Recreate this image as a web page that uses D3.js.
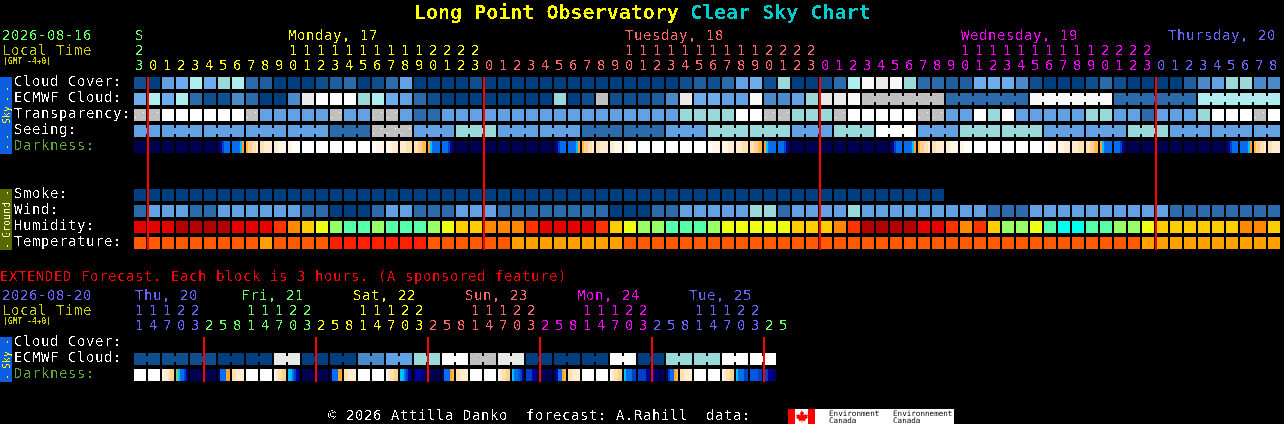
<!DOCTYPE html>
<html><head><meta charset="utf-8">
<script src="https://cdnjs.cloudflare.com/ajax/libs/d3/7.8.5/d3.min.js"></script>
<style>html,body{margin:0;padding:0;background:#000;overflow:hidden}svg{display:block}
text{font-family:"DejaVu Sans Mono",monospace;font-size:14px;letter-spacing:0.57px;white-space:pre}</style></head><body>
<svg id="c" width="1284" height="424" xmlns="http://www.w3.org/2000/svg"></svg>
<script>
// ---------- tick labels ----------
const dayHours=[0,1,2,3,4,5,6,7,8,9,10,11,12,13,14,15,16,17,18,19,20,21,22,23];
const mainHours=[23,...dayHours,...dayHours,...dayHours,0,1,2,3,4,5,6,7,8];
const mainDays=[0,...Array(24).fill(1),...Array(24).fill(2),...Array(24).fill(3),...Array(9).fill(4)];
const dayColors=["#66ff66","#ffff00","#ff6666","#ff00ff","#6666ff"];
const mainHeaders=[{t:"S",col:0,d:0,dx:1},{t:"Monday, 17",col:11,d:1,dx:0},{t:"Tuesday, 18",col:35,d:2,dx:1},{t:"Wednesday, 19",col:59,d:3,dx:1},{t:"Thursday, 20",col:74,d:4,dx:-2}];
const mainTop=[{t:"2",col:0,d:0}];
const extHours=[11,14,17,20,23, 2,5,8,11,14,17,20,23, 2,5,8,11,14,17,20,23, 2,5,8,11,14,17,20,23, 2,5,8,11,14,17,20,23, 2,5,8,11,14,17,20,23, 2,5];
const extColor=["#6666ff","#66ff66","#ffff00","#ff6666","#ff00ff","#6666ff","#66ff66"];
const extDayOf=[0,0,0,0,0, 1,1,1,1,1,1,1,1, 2,2,2,2,2,2,2,2, 3,3,3,3,3,3,3,3, 4,4,4,4,4,4,4,4, 5,5,5,5,5,5,5,5, 6,6];
const extHeaders=[{t:"Thu, 20",col:0,dx:1,d:0},{t:"Fri, 21",col:8,dx:-5,d:1},{t:"Sat, 22",col:16,dx:-5,d:2},{t:"Sun, 23",col:24,dx:-5,d:3},{t:"Mon, 24",col:32,dx:-5,d:4},{t:"Tue, 25",col:40,dx:-5,d:5}];

// ---------- sky levels: 0 deep blue ... 11 white, 12 grey ----------
const skyPalette=["#003f7f","#0f4f8f","#1f5f9f","#2c6bab","#4b8bcb","#62a2e4","#6eaded","#99d9d9","#afeeee","#e9e9e9","#f8f8f8","#ffffff","#c0c0c0"];
const cloudCover=[1,0,5,6,8,6,7,8,3,2,0,0,0,1,2,3,0,1,3,5,0,0,0,0,1,0,0,0,0,0,0,0,0,0,0,0,0,0,0,1,2,1,3,5,6,1,7,0,0,1,3,8,10,9,10,7,3,3,2,2,6,6,6,4,1,0,0,0,1,3,1,0,0,0,0,2,4,5,7,7,4,4];
const ecmwfCloud=[6,8,6,8,3,1,1,4,3,0,0,4,9,11,11,11,7,8,6,5,3,1,0,0,0,0,0,0,0,0,7,0,1,12,1,1,1,2,4,9,6,6,5,5,10,4,4,5,7,9,9,10,12,12,12,12,12,12,3,3,3,3,3,3,10,10,10,10,10,10,3,3,3,3,3,3,8,8,8,8,8,8];
const transparency=[12,12,11,11,11,11,11,11,12,5,5,5,5,5,12,5,5,12,12,5,3,3,5,5,5,5,5,5,5,5,5,5,5,5,5,5,5,5,5,7,7,7,7,11,11,12,12,7,7,7,12,11,11,11,11,11,12,12,5,5,11,7,11,5,5,5,5,5,7,7,5,5,3,5,5,5,7,11,11,11,12,11];
const seeing=[5,5,5,5,5,5,5,5,5,5,5,5,5,5,3,3,3,12,12,12,5,5,5,7,7,7,5,5,5,5,5,5,3,3,3,3,3,3,5,5,5,7,7,7,7,7,7,5,5,5,7,7,7,11,11,11,5,5,5,7,7,7,7,7,7,5,5,5,5,5,5,7,7,7,5,5,5,5,5,5,5,5];
const smoke=Array(58).fill(0);
const wind=[3,5,5,5,3,3,5,5,5,5,5,5,3,3,0,0,0,3,5,5,3,3,3,5,5,5,3,3,3,3,3,3,3,3,0,0,0,3,3,5,5,5,5,5,7,7,3,5,5,5,5,7,5,5,5,5,5,5,5,5,5,3,3,3,5,5,5,5,5,5,5,5,5,5,3,3,3,3,3,3,3,3];
// ---------- humidity / temperature classes ----------
const humidityColors={A:"#e60000",B:"#b30000",C:"#ff3300",D:"#ff8800",E:"#ffcc00",F:"#eeff11",G:"#99ff66",H:"#55ffaa",I:"#00ffee"};
const humidity="AAABBBBAAACDEFGHHGHHHGFEEDDDCAAAACEFGGHHHGFFFFFEEEDCBBBBAACDCEGGFHIIHHGGFEEEEEEDDE".split("");
const temperatureColors={X:"#ff5a00",Y:"#ffa000",Z:"#ff1e00"};
const temperature=[..."XXXXXXXXXYXXXX","ZZZZZZZ","XXXXXX","YYYYYYYY","XXXXXXXXXXXXXXXXXXXXXXXXXXXXXXXXXXXXX","YYYYYYYYYY"].join("").split("");
// ---------- darkness: six samples per block ----------
const darkPalette=["#000050","#000070","#0000a0","#0040c8","#0058e0","#0070f0","#00c0ff","#ffa030","#ffb850","#ffd090","#ffe0b0","#ffecd0","#fff6e8","#ffffff","#80c080"];
const N=[0,0,0,0,0,0],W=[13,13,13,13,13,13];
const dawnA=[1,2,3,5,5,5],dawnB=[5,5,5,5,6,7],morn1=[8,9,9,10,10,11],morn2=[10,10,11,11,11,11],morn3=[11,11,12,12,12,12],morn4=[12,12,13,13,13,13];
const eve1=[13,13,12,12,12,12],eve2=[12,12,12,11,11,11],eve3=[11,11,11,10,10,10],eve4=[10,10,9,9,8,8],duskA=[7,6,5,5,5,5],duskB=[5,5,5,3,2,1];
const darkness=[N,N,N,N,N,N,dawnA,dawnB,morn1,morn2,morn3,morn4,W,W,W,W,W,eve1,eve2,eve3,eve4,duskA,duskB,N,N,N,N,N,N,N,
 dawnA,dawnB,morn1,morn2,morn3,morn4,W,W,W,W,W,eve1,eve2,eve3,eve4,duskA,duskB,N,N,N,N,N,N,N,
 dawnA,dawnB,morn1,morn2,morn3,morn4,W,W,W,W,W,eve1,eve2,eve3,eve4,duskA,duskB,N,N,N,N,N,N,N,
 dawnA,dawnB,morn1,morn2];
// ---------- extended forecast ----------
const extEcmwfPairs=[1,1,1,0,0,9,0,0,4,5,7,11,12,9,0,0,0,11,0,7,7,11,11];
const fadeW=[12,11,11,10,9,9],fade2=[12,11,10,10,9,9];
const extDarkness=[W,W,fadeW,[14,6,5,5,3,2],N,N,[1,5,5,5,7,7],morn2,W,W,fade2,[6,6,5,3,2,1],N,N,[1,5,5,5,7,7],morn2,
 W,W,fade2,[6,6,5,3,2,1],[1,2,2,2,1,1],N,[1,5,5,5,7,8],morn2,W,W,fade2,[6,5,5,4,3,2],[3,3,3,2,2,1],N,[1,2,5,5,7,8],morn2,
 W,W,fade2,[6,5,5,5,3,3],[3,3,3,3,2,2],[2,1,1,0,0,0],[1,3,5,5,7,8],morn2,W,W,fade2,[6,5,5,5,3,3],[4,4,4,4,3,3],[3,3,2,2,1,1]];
const skyLabels=["Cloud Cover:","ECMWF Cloud:","Transparency:","Seeing:","Darkness:"];
const groundLabels=["Smoke:","Wind:","Humidity:","Temperature:"];
const extLabels=["Cloud Cover:","ECMWF Cloud:","Darkness:"];

// ---------- scales ----------
const PITCH=14,BLOCK=12;
const x=d3.scaleLinear().domain([0,1]).range([134,134+PITCH]);
const ySky=d3.scalePoint().domain(skyLabels).range([77,141]);
const yGround=d3.scalePoint().domain(groundLabels).range([189,237]);
const yExt=d3.scalePoint().domain(extLabels).range([337,369]);
const skyColor=d3.scaleOrdinal().domain(d3.range(13)).range(skyPalette);
const svg=d3.select("#c");
const defs=svg.append("defs");
function speckPattern(id,dots){
  const p=defs.append("pattern").attr("id",id).attr("patternUnits","userSpaceOnUse").attr("width",PITCH).attr("height",PITCH);
  p.append("rect").attr("width",PITCH).attr("height",PITCH).attr("fill","#c0c0c0");
  dots.forEach(([a,b,c])=>p.append("rect").attr("x",a).attr("y",b).attr("width",1).attr("height",1).attr("fill",c));
}
speckPattern("gw",[[3,3,"#fff"],[9,8,"#fff"],[6,11,"#eee"]]);
speckPattern("gc",[[2,4,"#7fa0ff"],[7,9,"#a0d060"],[11,2,"#ff8080"],[5,13,"#60c060"]]);

const gCells=svg.append("g");
function row(vals,top,color,groupOf){
  const g=gCells.append("g").attr("transform",`translate(0,${top})`);
  g.selectAll("rect.b").data(vals).join("rect").attr("class","b")
    .attr("x",(d,i)=>x(i)).attr("y",0).attr("width",BLOCK).attr("height",BLOCK).attr("fill",color);
  if(groupOf){
    const links=d3.range(vals.length-1).filter(i=>groupOf(i)!==null&&groupOf(i)===groupOf(i+1));
    g.selectAll("rect.l").data(links).join("rect").attr("class","l")
      .attr("x",i=>x(i)+BLOCK).attr("y",3).attr("width",PITCH-BLOCK).attr("height",6).attr("fill",i=>color(vals[i]));
  }
}
function darkRow(vals,top){
  const g=gCells.append("g").attr("transform",`translate(0,${top})`);
  const cells=g.selectAll("g").data(vals).join("g").attr("transform",(d,i)=>`translate(${x(i)},0)`);
  cells.selectAll("rect").data(d=>d).join("rect").attr("x",(d,j)=>j*2).attr("y",0).attr("width",2).attr("height",BLOCK).attr("fill",d=>darkPalette[d]);
}
const sky=v=>skyColor(v);
const skyT=v=>v===12?"url(#gw)":skyColor(v);
const skyE=v=>v===12?"url(#gc)":skyColor(v);
row(cloudCover,ySky(skyLabels[0]),sky);
row(ecmwfCloud,ySky(skyLabels[1]),skyE,i=>i>=52?Math.floor((i-52)/6):null);
row(transparency,ySky(skyLabels[2]),skyT);
row(seeing,ySky(skyLabels[3]),skyT,i=>Math.floor((i+1)/3));
darkRow(darkness,ySky(skyLabels[4]));
row(smoke,yGround(groundLabels[0]),sky);
row(wind,yGround(groundLabels[1]),sky);
row(humidity,yGround(groundLabels[2]),v=>humidityColors[v]);
row(temperature,yGround(groundLabels[3]),v=>temperatureColors[v]);
const extEcmwf=extEcmwfPairs.flatMap(v=>[v,v]);
row(extEcmwf,yExt(extLabels[1]),skyE,i=>Math.floor(i/2));
darkRow(extDarkness,yExt(extLabels[2]));

// side bars
const side=[[77,77,"#0b5fe0"],[189,61,"#556b00"],[337,45,"#0b5fe0"]];
svg.append("g").selectAll("rect").data(side).join("rect").attr("x",0).attr("y",d=>d[0]).attr("width",12).attr("height",d=>d[1]).attr("fill",d=>d[2]);

// midnight lines
const mainLines=[1,25,49,73], extLines=[5,13,21,29,37,45];
svg.append("g").selectAll("rect").data(mainLines).join("rect").attr("x",i=>x(i)-1).attr("y",77).attr("width",2).attr("height",173).attr("fill","#ff0000");
svg.append("g").selectAll("rect").data(extLines).join("rect").attr("x",i=>x(i)-1).attr("y",337).attr("width",2).attr("height",45).attr("fill","#ff0000");

// text: one hard-edged layer per colour, so every glyph is thresholded the same way
const textGroups=new Map();
function layer(c){
  if(textGroups.has(c))return textGroups.get(c);
  const id="crisp"+textGroups.size;
  const f=defs.append("filter").attr("id",id).attr("filterUnits","userSpaceOnUse").attr("x",0).attr("y",0).attr("width",1284).attr("height",424).attr("color-interpolation-filters","sRGB");
  f.append("feComponentTransfer").attr("in","SourceAlpha").attr("result","a").append("feFuncA").attr("type","discrete").attr("tableValues","0 0 0 0 0 0 1 1 1 1");
  f.append("feFlood").attr("flood-color",c).attr("result","col");
  f.append("feComposite").attr("in","col").attr("in2","a").attr("operator","in");
  const g=svg.append("g").attr("filter",`url(#${id})`);
  textGroups.set(c,g);return g;
}
function t(s,px,py,fill,extra){const n=layer(fill).append("text").attr("x",px).attr("y",py).attr("fill","#fff").text(s);if(extra)extra(n);return n;}
const bold20=n=>n.style("font-size","20px").style("font-weight","bold").style("letter-spacing","0");
t("Long Point Observatory ",414,19,"#ffff00",bold20);
t("Clear Sky Chart",690,19,"#00cccc",bold20);
const tiny=n=>n.style("font-size","8px").style("font-weight","bold").style("letter-spacing","0");
t("2026-08-16",2,40,"#66ff66");t("Local Time",2,55,"#cccc00");t("(GMT -4+0)",3,64,"#cccc00",tiny);
mainHeaders.forEach(h=>t(h.t,x(h.col)+h.dx,40,dayColors[h.d]));
mainTop.forEach(h=>t(h.t,x(h.col)+1,55,dayColors[h.d]));
mainHours.forEach((h,i)=>{t(String(h%10),x(i)+1,70,dayColors[mainDays[i]]);if(h>=10&&i>0)t(String(Math.floor(h/10)),x(i)+1,55,dayColors[mainDays[i]]);});
skyLabels.forEach((s,i)=>t(s,14,ySky(s)+9,i===4?"#5aa832":"#ffffff"));
groundLabels.forEach(s=>t(s,14,yGround(s)+9,"#ffffff"));
t("EXTENDED Forecast. Each block is 3 hours. (A sponsored feature)",0,281,"#ff0000");
t("2026-08-20",2,300,"#6666ff");t("Local Time",2,315,"#cccc00");t("(GMT -4+0)",3,324,"#cccc00",tiny);
extHeaders.forEach(h=>t(h.t,x(h.col)+h.dx,300,extColor[h.d]));
extHours.forEach((h,i)=>{t(String(h%10),x(i)+1,330,extColor[extDayOf[i]]);if(h>=10)t(String(Math.floor(h/10)),x(i)+1,315,extColor[extDayOf[i]]);});
extLabels.forEach((s,i)=>t(s,14,yExt(s)+9,i===2?"#5aa832":"#ffffff"));
t("\u00a9 2026 Attilla Danko  forecast: A.Rahill  data:",328,420,"#ffffff");

// side bar text: label and dash marks, reading bottom to top
function vert(s,cy,fill,sp){layer(fill).append("text").attr("transform",`translate(9.5,${cy}) rotate(-90)`).attr("text-anchor","middle").attr("fill","#fff").style("font-size","10px").style("letter-spacing",sp+"px").text(s);}
[["--",140,4],["Sky",115,0],["--",92,4]].forEach(([s,c,sp])=>vert(s,c,"#ffff00",sp));
[["-",193,0],["Ground",220,0],["-",246,0]].forEach(([s,c,sp])=>vert(s,c,"#ffffcc",sp));
[["-",342,0],["Sky",360,0],["-",377,0]].forEach(([s,c,sp])=>vert(s,c,"#ffff00",sp));

// logo
const L=svg.append("g");
L.append("rect").attr("x",788).attr("y",409).attr("width",166).attr("height",15).attr("fill","#ffffff");
L.append("rect").attr("x",788).attr("y",409).attr("width",7).attr("height",15).attr("fill","#ff0000");
L.append("rect").attr("x",808).attr("y",409).attr("width",7).attr("height",15).attr("fill","#ff0000");
L.append("path").attr("d","M801.5 410l1.5 2.5 1-.5-.5 3.5 2-1.5 .5 1 2-.3-.8 2 .8.7-3 2.4.3 1.2-3-.4v2.2h-.6v-2.2l-3 .4.3-1.2-3-2.4.8-.7-.8-2 2 .3.5-1 2 1.5-.5-3.5 1 .5z").attr("fill","#ff0000");
[[829,415.5,"Environment"],[829,423,"Canada"],[893,415.5,"Environnement"],[893,423,"Canada"]].forEach(([a,b,s])=>
  L.append("text").attr("x",a).attr("y",b).attr("fill","#000").style("font-size","7.6px").style("letter-spacing","0").text(s));
</script></body></html>
